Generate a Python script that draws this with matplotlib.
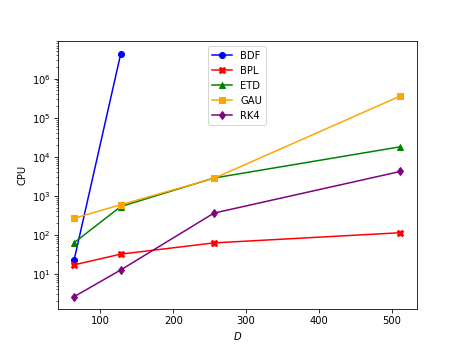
import matplotlib
matplotlib.use("Agg")
import matplotlib.pyplot as plt

D_bdf = [64, 128]
bdf = [23, 4.4e6]
D = [64, 128, 256, 512]
bpl = [17, 32, 62, 113]
etd = [63, 530, 2850, 18000]
gau = [265, 590, 2800, 3.6e5]
rk4 = [2.6, 12.6, 360, 4200]

fig, ax = plt.subplots(figsize=(6.4, 4.8), dpi=72.34)
ax.plot(D_bdf, bdf, marker='o', color='blue', label='BDF')
ax.plot(D, bpl, marker='X', color='red', label='BPL')
ax.plot(D, etd, marker='^', color='green', label='ETD')
ax.plot(D, gau, marker='s', color='orange', label='GAU')
ax.plot(D, rk4, marker='d', color='purple', label='RK4')
ax.set_yscale('log')
ax.set_xlabel('$D$')
ax.set_ylabel('CPU')
ax.legend(loc='upper center')
fig.savefig('out.png')
